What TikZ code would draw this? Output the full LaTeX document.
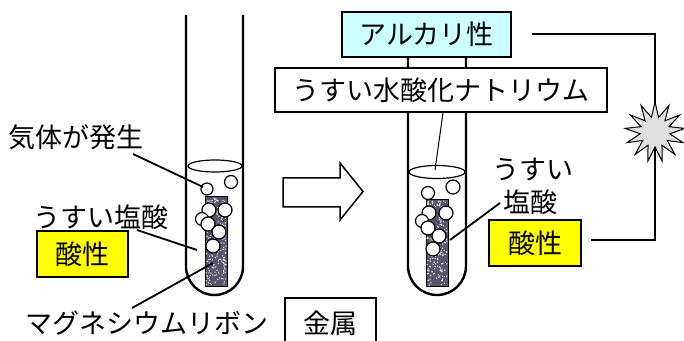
\documentclass[tikz,border=0pt]{standalone}
\usepackage{fontspec}
\setmainfont{Noto Sans CJK JP}
\definecolor{acidyellow}{RGB}{255,255,0}
\definecolor{alkcyan}{RGB}{204,255,255}
\definecolor{ribbon}{RGB}{88,84,108}
\definecolor{blast}{RGB}{224,224,224}
\begin{document}
\begin{tikzpicture}[x=1pt,y=1pt,
  every node/.style={font=\fontsize{27}{30}\selectfont, inner sep=0pt},
  tag/.style={draw, line width=1.6pt, anchor=center},
  lead/.style={line width=1.8pt},
  wall/.style={line width=2.4pt},
  bubble/.style={draw, fill=white, line width=1.2pt},
  ribbonbox/.style={fill=ribbon, draw, line width=1pt}]
\useasboundingbox (0,0) rectangle (684,340);
\clip (0,0) rectangle (684,340);

% --- test tubes ---
\draw[wall] (186,325) -- (186,73.5) arc (180:360:28.5) -- (243,325);
\draw[wall] (408,325) -- (408,74) arc (180:360:29) -- (466,325);

% liquid surfaces
\draw[line width=1.2pt] (215,174) ellipse (27 and 6);
\draw[line width=1.2pt] (437,168) ellipse (28 and 6.5);

% magnesium ribbons with speckled texture
\filldraw[ribbonbox] (205,54) rectangle (227,143);
\filldraw[ribbonbox] (426,54) rectangle (448,140);
\pgfmathsetseed{42}
\foreach \i in {1,...,220}{
  \fill[white!85!gray] ({206+20*rnd},{55+87*rnd}) circle (0.75);
  \fill[white!85!gray] ({427+20*rnd},{55+84*rnd}) circle (0.75);
}

% hydrogen bubbles
\foreach \p/\r in {{207,151}/6, {231,158}/6.5, {209,130}/7, {225,130}/7,
                   {202,121}/6.5, {208,116}/7, {219,108}/7, {213,94}/7}
  \draw[bubble] (\p) circle (\r);
\foreach \p/\r in {{428,147}/6.5, {453,153}/7, {429,127}/7, {446,127}/7,
                   {422,119}/6.5, {428,112}/7, {439,104}/7, {433,91}/7}
  \draw[bubble] (\p) circle (\r);

% --- hollow block arrow between the tubes ---
\draw[line width=1.5pt, fill=white]
  (283,133) -- (340,133) -- (340,120) -- (363,148.5) -- (340,177) -- (340,162) -- (283,162) -- cycle;

% --- left tube labels ---
\node (gas) at (76,203) {気体が発生};
\node (hclL) at (101,123) {うすい塩酸};
\node (mg) at (147,17) {マグネシウムリボン};
\node[tag, fill=acidyellow, minimum width=91pt, minimum height=46pt] (acidL) at (82.5,86) {酸性};
\node[tag, fill=white, minimum width=91pt, minimum height=50pt] (metal) at (330.5,17) {金属};

\coordinate (gasA) at (133,186);   \coordinate (gasB) at (203,153);
\coordinate (hclA) at (137,110);   \coordinate (hclB) at (197,90);
\coordinate (mgA)  at (132,32);    \coordinate (mgB)  at (213,77);
\draw[lead] (gasA) -- (gasB);
\draw[lead] (hclA) -- (hclB);
\draw[lead] (mgA) -- (mgB);

% --- right tube labels ---
\node (usui) at (533,170) {うすい};
\node (hclR) at (530,138) {塩酸};
\coordinate (hclRA) at (500,137);  \coordinate (hclRB) at (450,100);
\draw[lead] (hclRA) -- (hclRB);

% neutralisation link: alkaline -> reaction -> acidic
\coordinate (alkout) at (532,306);
\coordinate (turnA) at (655,306);
\coordinate (turnB) at (655,100);
\coordinate (acidout) at (591,100);
\coordinate (bang) at (655,208);
\draw[line width=1.6pt] (alkout) -- (turnA) -- (turnB) -- (acidout);
% reaction burst: 13-pointed star
\draw[shift={(bang)}, fill=blast, line width=1pt, line join=miter]
  plot[samples at={0,...,25}, variable=\k]
  ({(mod(\k,2)==0 ? 30 : 15)*cos(\k*360/26+90)},
   {(mod(\k,2)==0 ? 30 : 15)*sin(\k*360/26+90)}) -- cycle;

\node[tag, fill=acidyellow, minimum width=92pt, minimum height=46pt] (acidR) at (535,97) {酸性};
\node[tag, fill=alkcyan, minimum width=169pt, minimum height=45pt] (alk) at (426.5,305.5) {アルカリ性};
\node[tag, fill=white, minimum width=332pt, minimum height=44pt] (naoh) at (441,250) {うすい水酸化ナトリウム};
\coordinate (naohB) at (435,170);
\draw[line width=1pt] ([xshift=2pt]naoh.south) -- (naohB);
\end{tikzpicture}
\end{document}
